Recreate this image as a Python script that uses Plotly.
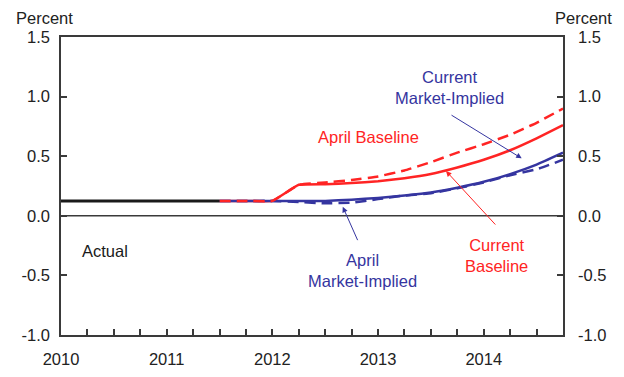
import plotly.graph_objects as go

# Quarterly time axis (fractional years)
actual_x = [2010.0, 2010.25, 2010.5, 2010.75, 2011.0, 2011.25, 2011.5]
actual_y = [0.125, 0.125, 0.125, 0.125, 0.125, 0.125, 0.125]

proj_x = [2011.5, 2011.75, 2012.0, 2012.25, 2012.5, 2012.75, 2013.0,
          2013.25, 2013.5, 2013.75, 2014.0, 2014.25, 2014.5, 2014.75]
current_baseline = [0.125, 0.125, 0.125, 0.26, 0.265, 0.275, 0.29,
                    0.315, 0.35, 0.405, 0.47, 0.55, 0.65, 0.76]
april_baseline = [0.125, 0.125, 0.125, 0.26, 0.28, 0.30, 0.33,
                  0.38, 0.45, 0.53, 0.60, 0.68, 0.78, 0.90]
current_market = [0.125, 0.125, 0.125, 0.125, 0.125, 0.135, 0.15,
                  0.17, 0.195, 0.235, 0.285, 0.35, 0.43, 0.53]
april_market = [0.125, 0.125, 0.125, 0.115, 0.105, 0.11, 0.14,
                0.17, 0.19, 0.23, 0.28, 0.34, 0.39, 0.47]

year_ticks = [2010, 2011, 2012, 2013, 2014]
year_labels = ["2010", "2011", "2012", "2013", "2014"]
y_ticks = [-1.0, -0.5, 0.0, 0.5, 1.0, 1.5]
y_labels = ["-1.0", "-0.5", "0.0", "0.5", "1.0", "1.5"]

RED = "#FF2424"
BLUE = "#3535A0"
AXIS = "#3a3a3a"
TEXT = "#222222"
FONT = "Arial, Liberation Sans, sans-serif"
FS = 16.5
DASH = "11px,6px"


def line_trace(y, color, dash="solid", width=2.5, x=proj_x):
    return go.Scatter(x=x, y=y, mode="lines", hoverinfo="skip",
                      line=dict(color=color, width=width, dash=dash,
                                shape="spline", smoothing=0.3))


fig = go.Figure()
fig.add_trace(line_trace(current_baseline, RED))
fig.add_trace(line_trace(april_market, BLUE, DASH))
fig.add_trace(line_trace(current_market, BLUE))
fig.add_trace(line_trace(april_baseline, RED, DASH))
fig.add_trace(line_trace(actual_y, "#1a1a1a", width=3, x=actual_x))
# invisible trace so the right-hand value axis is drawn
fig.add_trace(go.Scatter(x=[2010], y=[0], mode="lines", yaxis="y2",
                         line=dict(width=0), hoverinfo="skip"))

fig.add_hline(y=0, line=dict(color=AXIS, width=1.5))

# series labels
labels = [
    ("Current<br>Market-Implied", 2013.68, 1.08, BLUE),
    ("April Baseline", 2012.905, 0.664, RED),
    ("Actual", 2010.416, -0.295, "#1a1a1a"),
    ("April<br>Market-Implied", 2012.857, -0.455, BLUE),
    ("Current<br>Baseline", 2014.125, -0.335, RED),
]
for text, x, y, color in labels:
    fig.add_annotation(x=x, y=y, text=text, showarrow=False,
                       font=dict(family=FONT, size=FS, color=color),
                       align="center", xanchor="center", yanchor="middle")

# pointer arrows: (head x, head y, tail x, tail y)
arrows = [
    (2014.359, 0.482, 2013.681, 0.852, BLUE),
    (2013.643, 0.376, 2014.123, -0.086, RED),
    (2012.666, 0.076, 2012.813, -0.217, BLUE),
]
for hx, hy, tx, ty, color in arrows:
    fig.add_annotation(x=hx, y=hy, ax=tx, ay=ty, xref="x", yref="y",
                       axref="x", ayref="y", text="", showarrow=True,
                       arrowhead=2, arrowsize=1.1, arrowwidth=1,
                       arrowcolor=color)

# "Percent" captions above both value axes
for xp in (-0.032, 1.041):
    fig.add_annotation(x=xp, y=1.0, xref="paper", yref="paper", yshift=19,
                       text="Percent", showarrow=False, xanchor="center",
                       yanchor="middle",
                       font=dict(family=FONT, size=FS, color=TEXT))

common_y = dict(range=[-1, 1.5], tickvals=y_ticks, ticktext=y_labels,
                ticks="inside", ticklen=6, tickwidth=1.5, tickcolor=AXIS,
                showgrid=False, zeroline=False, automargin=False)

fig.update_layout(
    width=624, height=377,
    margin=dict(l=61, r=61, t=37, b=42),
    paper_bgcolor="white", plot_bgcolor="white",
    showlegend=False,
    font=dict(family=FONT, size=FS, color=TEXT),
    xaxis=dict(range=[2010, 2014.75], tickvals=year_ticks, ticktext=year_labels,
               ticks="inside", ticklen=6, tickwidth=1.5, tickcolor=AXIS,
               ticklabelstandoff=8, automargin=False,
               minor=dict(dtick=0.25, tick0=2010, ticks="inside", ticklen=6,
                          tickwidth=1.5, tickcolor=AXIS, showgrid=False),
               showline=True, linecolor=AXIS, linewidth=1.5, mirror=True,
               showgrid=False, zeroline=False),
    yaxis=dict(showline=True, linecolor=AXIS, linewidth=1.5, mirror=True,
               ticklabelstandoff=6, **common_y),
    yaxis2=dict(overlaying="y", side="right", showline=False,
                ticklabelstandoff=14, **common_y),
)

fig.write_html("out.html")
